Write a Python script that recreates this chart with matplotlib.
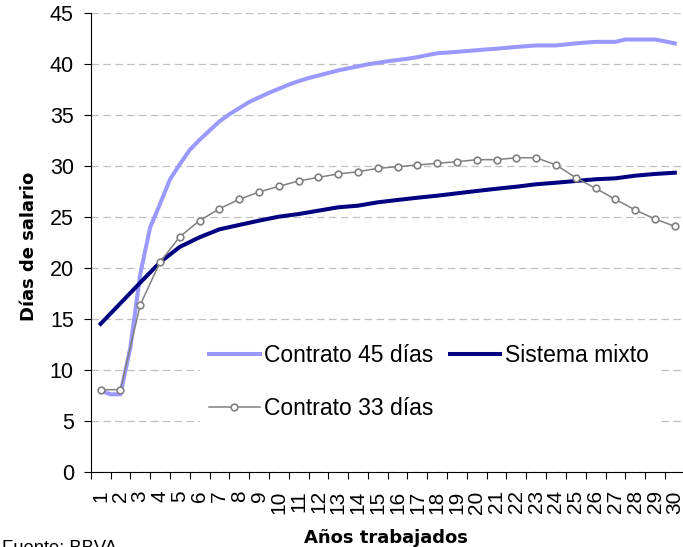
import matplotlib
matplotlib.use("Agg")
import matplotlib.pyplot as plt
import numpy as np

# ---------------- data ----------------
years = list(range(1, 31))
year_labels = [str(y) for y in years]

# Contrato 45 días (drawn at half-year resolution)
x45 = [1, 1.5, 2, 2.5, 3, 3.5, 4, 4.5, 5, 5.5, 6, 6.5, 7, 7.5, 8, 8.5, 9, 9.5,
       10, 10.5, 11, 11.5, 12, 12.5, 13, 13.5, 14, 14.5, 15, 15.5, 16, 16.5,
       17, 17.5, 18, 18.5, 19, 19.5, 20, 20.5, 21, 21.5, 22, 22.5, 23, 23.5,
       24, 24.5, 25, 25.5, 26, 26.5, 27, 27.5, 28, 28.5, 29, 29.5, 30]
contrato45 = [8.0, 7.65, 7.65, 12.2, 19.4, 24.0, 26.3, 28.7, 30.2, 31.6, 32.6,
              33.5, 34.4, 35.1, 35.7, 36.3, 36.75, 37.2, 37.6, 38.0, 38.35,
              38.65, 38.9, 39.15, 39.4, 39.6, 39.8, 40.0, 40.15, 40.3, 40.42,
              40.55, 40.7, 40.9, 41.08, 41.15, 41.22, 41.3, 41.38, 41.46,
              41.53, 41.62, 41.7, 41.78, 41.85, 41.85, 41.85, 41.95, 42.05,
              42.13, 42.2, 42.2, 42.2, 42.43, 42.43, 42.43, 42.43, 42.25, 42.05]

sistema_mixto = [14.55, 16.57, 18.59, 20.59, 22.1, 23.04, 23.82, 24.25, 24.67,
                 25.06, 25.32, 25.65, 25.98, 26.14, 26.47, 26.7, 26.92, 27.12,
                 27.35, 27.58, 27.8, 28.0, 28.24, 28.39, 28.56, 28.73, 28.82,
                 29.08, 29.25, 29.37]

contrato33 = [8.1, 8.1, 16.4, 20.6, 23.1, 24.67, 25.84, 26.76, 27.48, 28.04,
              28.56, 28.92, 29.25, 29.47, 29.8, 29.96, 30.13, 30.29, 30.45,
              30.65, 30.65, 30.84, 30.84, 30.13, 28.88, 27.84, 26.76, 25.72,
              24.83, 24.12]

y_ticks = [0, 5, 10, 15, 20, 25, 30, 35, 40, 45]

# ---------------- figure ----------------
W, H = 683, 547
fig = plt.figure(figsize=(W / 100, H / 100), dpi=100)
ax = fig.add_axes([90.7 / W, (H - 472.3) / H, 594.0 / W, 459.0 / H])

tick_font = "Liberation Sans"
label_font = "DejaVu Sans"

l45, = ax.plot(x45, contrato45, color="#9999FF", lw=2.9,
               solid_joinstyle="round", label="Contrato 45 días", zorder=3)
lmx, = ax.plot(years, sistema_mixto, color="#000080", lw=2.9,
               solid_joinstyle="round", label="Sistema mixto", zorder=3)
l33, = ax.plot(years, contrato33, color="#808080", lw=1.1, marker="o",
               markersize=4.8, markerfacecolor="white", markeredgecolor="#808080",
               markeredgewidth=1.2, label="Contrato 33 días", zorder=4)

ax.set_xlim(0.5, 30.5)
ax.set_ylim(0, 45)

# x axis: labels at categories, tick marks between categories
ax.set_xticks(years)
ax.set_xticklabels(year_labels, rotation=90, fontfamily=tick_font, fontsize=15)
ax.set_xticks(np.arange(0.5, 31, 1), minor=True)
ax.tick_params(axis="x", which="major", length=0, pad=13)
ax.tick_params(axis="x", which="minor", length=5.2, width=0.8, direction="out",
               color="#000000")

ax.set_yticks(y_ticks)
ax.set_yticklabels([str(v) for v in y_ticks], fontfamily=tick_font, fontsize=15.5)
ax.tick_params(axis="y", length=5.2, width=0.8, direction="out", pad=7,
               color="#000000")

for s in ["top", "right"]:
    ax.spines[s].set_visible(False)
for s in ["left", "bottom"]:
    ax.spines[s].set_color("#000000")
    ax.spines[s].set_linewidth(0.8)

ax.yaxis.grid(True, color="#c0c0c0", lw=0.9, linestyle=(0, (6, 3.5)))
ax.set_axisbelow(True)

leg = ax.legend([l45, l33, lmx],
                ["Contrato 45 días", "Contrato 33 días", "Sistema mixto"],
                ncol=2, loc="upper left",
                bbox_to_anchor=(200 / W, (H - 335) / H),
                bbox_transform=fig.transFigure,
                prop={"family": tick_font, "size": 16.5},
                frameon=True, framealpha=1, facecolor="white", edgecolor="none",
                fancybox=False, borderpad=0.4, borderaxespad=0,
                handlelength=2.2, handletextpad=0.2, columnspacing=0.7,
                labelspacing=1.3)

fig.text(29 / W, (H - 246) / H, "Días de salario", rotation=90,
         ha="center", va="center", fontfamily=label_font, fontweight="bold",
         fontsize=13)
fig.text(386 / W, (H - 543.3) / H, "Años trabajados", ha="center",
         va="baseline", fontfamily=label_font, fontweight="bold", fontsize=13)
fig.text(2 / W, (H - 553) / H, "Fuente: BBVA", ha="left", va="baseline",
         fontfamily=tick_font, fontsize=13.2)

fig.savefig("out.png", dpi=100)
